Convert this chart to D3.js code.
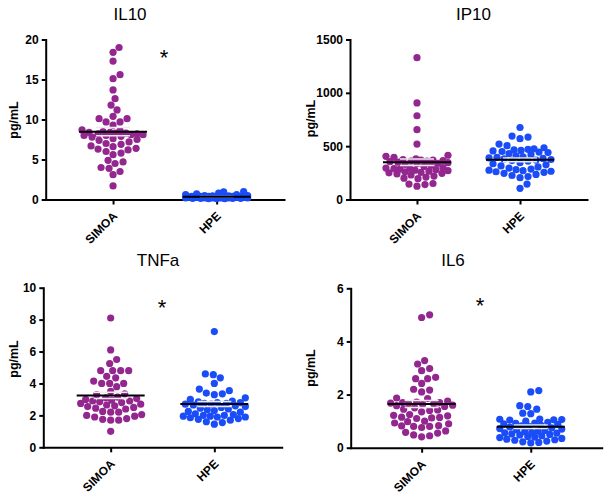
<!DOCTYPE html>
<html>
<head>
<meta charset="utf-8">
<script src="https://cdn.jsdelivr.net/npm/d3@7"></script>
<style>
  body { margin: 0; background: #fff; }
  svg { display: block; }
  text { font-family: "Liberation Sans", Arial, Helvetica, sans-serif; }
</style>
</head>
<body>
<script>
// groupes et couleurs
var groups = ["SIMOA", "HPE"];
var colors = ["#93278f", "#1a4cf7"];

// valeurs (pg/mL)
var il10Simoa = [19.0, 18.4, 17.3, 15.6, 15.1, 13.7, 12.6, 11.8, 11.2, 10.4, 10.1, 10.1, 9.7, 9.7, 9.3,
  8.7, 8.6, 8.5, 8.4, 8.4, 8.3, 8.3, 8.2, 8.2, 8.1, 8.1, 8.0, 8.0, 7.9, 7.8, 7.6, 7.5, 7.4, 7.2, 7.0,
  6.9, 6.7, 6.6, 6.4, 6.3, 6.2, 6.0, 5.8, 5.6, 4.9, 4.7, 4.5, 4.0, 3.9, 3.5, 3.1, 1.7];
var il10Hpe = [1.0, 0.95, 0.8, 0.7, 0.6, 0.6, 0.5, 0.5, 0.45, 0.45, 0.4, 0.4, 0.4, 0.4, 0.4, 0.4,
  0.35, 0.35, 0.35, 0.35, 0.35, 0.35, 0.3, 0.3, 0.3, 0.3, 0.3, 0.3, 0.3, 0.3, 0.25, 0.25, 0.25, 0.25,
  0.25, 0.25, 0.2, 0.2, 0.2, 0.2, 0.2, 0.2, 0.15, 0.15, 0.15, 0.15, 0.1, 0.1, 0.1];

var ip10Simoa = [1330, 905, 785, 655, 520, 415, 405, 395, 380, 375, 370, 370, 365, 360, 360, 355, 350,
  345, 340, 335, 330, 320, 310, 300, 295, 290, 290, 285, 280, 275, 270, 265, 260, 255, 250, 245, 240,
  230, 220, 210, 200, 195, 150, 145, 140, 125];
var ip10Hpe = [675, 595, 585, 570, 520, 505, 485, 475, 470, 465, 460, 455, 450, 445, 440, 430, 420,
  410, 400, 395, 390, 385, 380, 375, 370, 365, 360, 345, 335, 325, 315, 305, 295, 285, 280, 275, 270,
  265, 260, 255, 245, 235, 225, 215, 205, 145, 105];

var tnfaSimoa = [8.1, 6.1, 5.5, 5.25, 4.8, 4.8, 4.8, 4.8, 4.45, 4.35, 4.15, 4.0, 4.0, 4.0, 3.8, 3.5,
  3.35, 3.3, 3.15, 3.1, 3.05, 3.0, 2.95, 2.9, 2.9, 2.85, 2.8, 2.75, 2.7, 2.65, 2.6, 2.55, 2.5, 2.45,
  2.4, 2.25, 2.2, 2.2, 2.05, 2.0, 1.95, 1.9, 1.8, 1.75, 1.7, 1.7, 1.0];
var tnfaHpe = [7.25, 4.6, 4.55, 4.35, 4.0, 3.65, 3.55, 3.4, 3.35, 3.3, 3.1, 3.0, 2.9, 2.85, 2.8, 2.8,
  2.75, 2.75, 2.7, 2.7, 2.65, 2.6, 2.55, 2.5, 2.45, 2.4, 2.35, 2.3, 2.25, 2.2, 2.1, 2.05, 2.0, 2.0,
  1.95, 1.95, 1.9, 1.9, 1.85, 1.8, 1.75, 1.7, 1.6, 1.55, 1.45];

var il6Simoa = [5.0, 4.9, 3.28, 3.15, 2.98, 2.9, 2.65, 2.6, 2.6, 2.42, 2.2, 2.17, 2.1, 1.87, 1.85,
  1.75, 1.72, 1.7, 1.7, 1.68, 1.66, 1.65, 1.63, 1.6, 1.58, 1.55, 1.5, 1.45, 1.42, 1.4, 1.35, 1.25,
  1.22, 1.2, 1.15, 1.14, 1.12, 1.1, 1.0, 0.98, 0.93, 0.9, 0.83, 0.82, 0.8, 0.8, 0.76, 0.63, 0.58,
  0.55, 0.48, 0.45, 0.41];
var il6Hpe = [2.15, 2.1, 1.58, 1.55, 1.45, 1.3, 1.28, 1.08, 1.07, 1.06, 1.05, 1.04, 1.0, 0.95, 0.93,
  0.92, 0.9, 0.88, 0.85, 0.82, 0.8, 0.78, 0.75, 0.72, 0.7, 0.68, 0.65, 0.62, 0.6, 0.58, 0.56, 0.55,
  0.52, 0.5, 0.48, 0.45, 0.42, 0.4, 0.38, 0.35, 0.32, 0.3, 0.28, 0.25, 0.22, 0.2, 0.18];

// graduations de l'axe Y
var il10Ticks = [0, 5, 10, 15, 20];
var ip10Ticks = [0, 500, 1000, 1500];
var tnfaTicks = [0, 2, 4, 6, 8, 10];
var il6Ticks = [0, 2, 4, 6];

var w = 607;
var h = 495;
var r = 3.6;

var svg = d3.select("body")
  .append("svg")
    .attr("width", w)
    .attr("height", h);

// position de chaque panneau
var panels = [
  { title: "IL10", data: [il10Simoa, il10Hpe], ticks: il10Ticks, star: true,
    x0: 45.7, x1: 284, top: 39.5, bottom: 199.5, titleX: 130, titleY: 19.5, starX: 164, starY: 52, labX: 18, labY: 120 },
  { title: "IP10", data: [ip10Simoa, ip10Hpe], ticks: ip10Ticks, star: false,
    x0: 350, x1: 587, top: 39.5, bottom: 199.5, titleX: 473.5, titleY: 19.5, labX: 315, labY: 118.5 },
  { title: "TNFa", data: [tnfaSimoa, tnfaHpe], ticks: tnfaTicks, star: true,
    x0: 43.3, x1: 281.7, top: 287.7, bottom: 447.3, titleX: 158, titleY: 265.7, starX: 162, starY: 302, labX: 18, labY: 359 },
  { title: "IL6", data: [il6Simoa, il6Hpe], ticks: il6Ticks, star: true,
    x0: 350.7, x1: 601.7, top: 288.3, bottom: 447.7, titleX: 453, titleY: 265.7, starX: 480, starY: 300, labX: 315, labY: 368 }
];

// essaim : on place les valeurs de la plus basse à la plus haute, au centre
// si possible, sinon on s'écarte ; si la rangée est pleine on accepte le chevauchement
function swarm(values, y, cx) {
  var dmin = 2 * r + 0.3, maxHalf = 31;
  var placed = [];
  values.slice().sort(d3.ascending).forEach(function(v) {
    var py = y(v);
    var best = null, bestGap = -Infinity;
    for (var k = 0; k <= maxHalf; k++) {
      var cands = k === 0 ? [0] : [k, -k];
      for (var c = 0; c < cands.length; c++) {
        var px = cx + cands[c];
        var gap = d3.min(placed, function(q) { return Math.hypot(q.x - px, q.y - py); });
        if (gap === undefined || gap >= dmin) { best = px; bestGap = Infinity; break; }
        if (gap > bestGap + 0.01) { bestGap = gap; best = px; }
      }
      if (bestGap === Infinity) break;
    }
    placed.push({ x: best, y: py });
  });
  return placed;
}

var fmt = d3.format("d");

panels.forEach(function(p) {
  var g = svg.append("g");

  var x = d3.scalePoint().domain(groups).range([p.x0, p.x1]).padding(0.65);
  var y = d3.scaleLinear().domain([0, d3.max(p.ticks)]).range([p.bottom, p.top]);

  // axe Y
  var ya = g.append("g")
    .attr("transform", "translate(" + p.x0 + ",0)")
    .call(d3.axisLeft(y).tickValues(p.ticks).tickFormat(fmt).tickSize(4).tickSizeOuter(0).tickPadding(3));
  ya.selectAll("text").attr("font-size", 12).attr("font-weight", "bold").attr("fill", "#000");

  // axe X
  var xa = g.append("g")
    .attr("transform", "translate(0," + p.bottom + ")")
    .call(d3.axisBottom(x).tickSize(5).tickSizeOuter(0));
  xa.selectAll("text")
    .attr("font-size", 12).attr("font-weight", "bold").attr("fill", "#000")
    .attr("text-anchor", "end")
    .attr("y", 0).attr("dy", 0)
    .attr("transform", "translate(4.5,17.3) rotate(-45)");

  g.selectAll(".domain, .tick line").attr("stroke", "#000").attr("stroke-width", 2);
  g.selectAll(".domain").attr("stroke-linecap", "square");

  // points
  p.data.forEach(function(vals, k) {
    var cx = x(groups[k]);
    g.append("g").selectAll("circle")
      .data(swarm(vals, y, cx))
      .enter()
        .append("circle")
        .attr("cx", function(d) { return d.x; })
        .attr("cy", function(d) { return d.y; })
        .attr("r", r)
        .attr("fill", colors[k]);

    // moyenne et erreur standard
    var m = d3.mean(vals);
    var sem = d3.deviation(vals) / Math.sqrt(vals.length);
    [m + sem, m - sem].forEach(function(v) {
      g.append("line")
        .attr("x1", cx - 17).attr("x2", cx + 17)
        .attr("y1", y(v)).attr("y2", y(v))
        .attr("stroke", "#ececec").attr("stroke-width", 1.5);
    });
    g.append("line")
      .attr("x1", cx - 34).attr("x2", cx + 34)
      .attr("y1", y(m)).attr("y2", y(m))
      .attr("stroke", "#000").attr("stroke-width", 2);
  });

  // titre
  g.append("text")
    .attr("x", p.titleX).attr("y", p.titleY)
    .attr("text-anchor", "middle")
    .attr("font-size", 17)
    .text(p.title);

  // libellé de l'axe Y
  g.append("text")
    .attr("transform", "translate(" + p.labX + "," + p.labY + ") rotate(-90)")
    .attr("text-anchor", "middle")
    .attr("font-size", 12.5).attr("font-weight", "bold")
    .text("pg/mL");

  if (p.star) {
    g.append("text")
      .attr("x", p.starX).attr("y", p.starY + 12.6)
      .attr("text-anchor", "middle")
      .attr("font-size", 22)
      .text("*");
  }
});
</script>
</body>
</html>
